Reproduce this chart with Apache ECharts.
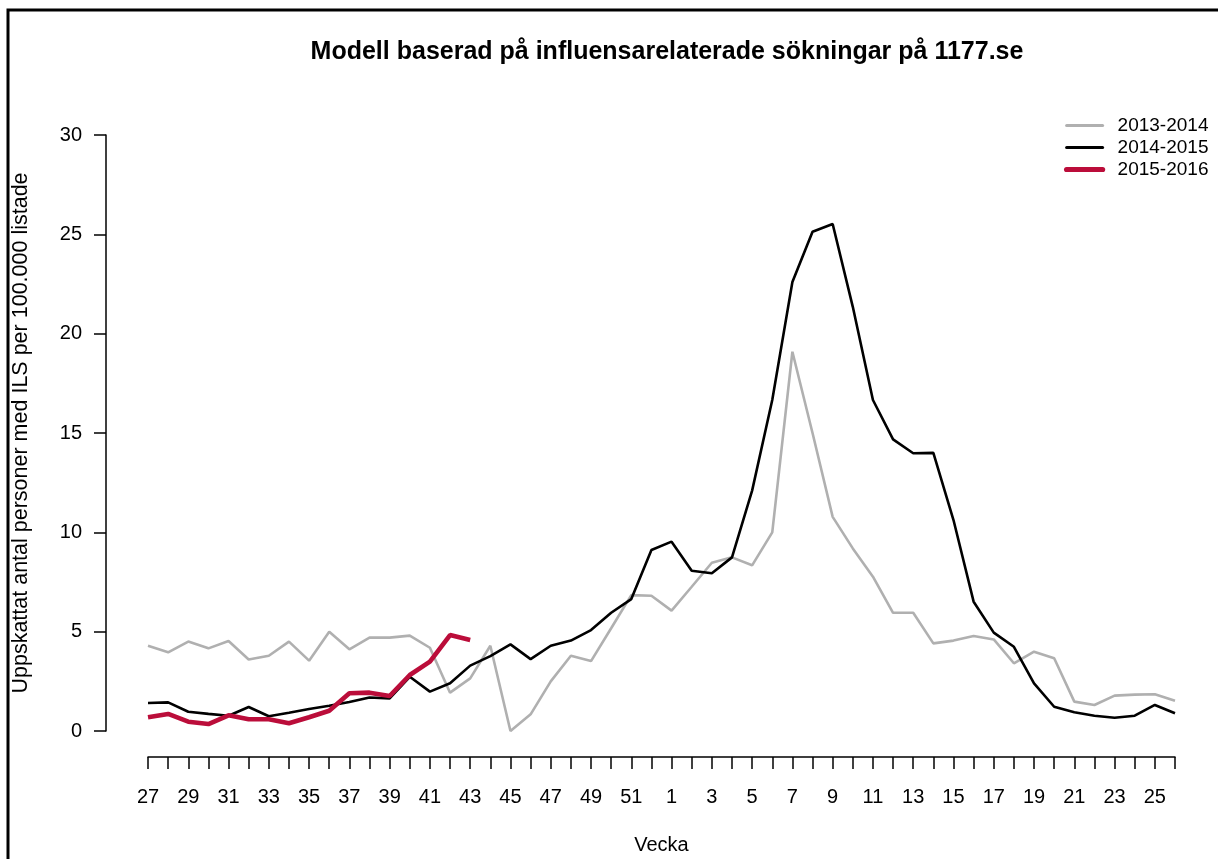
<!DOCTYPE html>
<html>
<head>
<meta charset="utf-8">
<script src="https://cdn.jsdelivr.net/npm/echarts@6/dist/echarts.min.js"></script>
<style>html,body{margin:0;padding:0;background:#fff}#c{width:1218px;height:859px}</style>
</head>
<body>
<div id="c"></div>
<script>
const weeks = [27,28,29,30,31,32,33,34,35,36,37,38,39,40,41,42,43,44,45,46,47,48,49,50,51,52,1,2,3,4,5,6,7,8,9,10,11,12,13,14,15,16,17,18,19,20,21,22,23,24,25,26];
const s2013 = [4.29,3.96,4.5,4.16,4.53,3.6,3.79,4.5,3.54,5.0,4.11,4.7,4.7,4.8,4.19,1.93,2.65,4.29,0.0,0.84,2.5,3.79,3.52,5.17,6.84,6.81,6.06,7.26,8.47,8.74,8.34,10.0,19.09,15.0,10.78,9.19,7.77,5.95,5.95,4.41,4.55,4.78,4.61,3.41,3.99,3.66,1.48,1.31,1.78,1.83,1.85,1.52];
const s2014 = [1.41,1.44,0.97,0.86,0.77,1.21,0.74,0.92,1.11,1.27,1.46,1.69,1.64,2.73,1.98,2.4,3.29,3.77,4.36,3.62,4.29,4.55,5.08,5.95,6.64,9.11,9.53,8.07,7.94,8.74,12.1,16.66,22.6,25.13,25.52,21.35,16.66,14.68,13.98,14.0,10.62,6.51,4.95,4.24,2.4,1.22,0.94,0.77,0.67,0.77,1.31,0.89];
const s2015 = [0.69,0.86,0.47,0.35,0.79,0.59,0.59,0.39,0.69,1.02,1.9,1.93,1.76,2.82,3.49,4.83,4.58];
const seriesNames = ['2013-2014','2014-2015','2015-2016'];
const yTicks = [0,5,10,15,20,25,30];

const FONT = 'Liberation Sans, Arial, sans-serif';
const colors = ['#b0b0b0', '#000000', '#bb0d3a'];
const widths = [2.6, 2.6, 4.6];
const chart = echarts.init(document.getElementById('c'), null, {renderer:'canvas'});
chart.setOption({
  backgroundColor: '#ffffff',
  animation: false,
  title: {
    text: 'Modell baserad på influensarelaterade sökningar på 1177.se',
    left: 662, top: 35, textAlign: 'center',
    textStyle: {fontFamily: FONT, fontSize: 25, fontWeight: 'bold', color: '#000'}
  },
  legend: {
    orient: 'vertical', left: 1059, top: 111, itemGap: 3,
    itemWidth: 36, itemHeight: 14,
    itemStyle: {opacity: 0},
    textStyle: {fontFamily: FONT, fontSize: 19, color: '#000', padding: [0,0,0,10]},
    data: seriesNames.map((n, i) => ({name: n, lineStyle: {width: widths[i] + (i === 2 ? 0.6 : 0.4), color: colors[i], cap: 'round'}}))
  },
  graphic: [{
    type: 'rect', silent: true,
    shape: {x: 8, y: 10, width: 1400, height: 1000},
    style: {fill: 'none', stroke: '#000', lineWidth: 3}
  }],
  grid: {left: 148, right: 43, top: 135, bottom: 128, outerBoundsMode: 'none', containLabel: false},
  xAxis: {
    type: 'category', data: weeks, boundaryGap: false, offset: 26,
    name: 'Vecka', nameLocation: 'middle', nameGap: 78,
    nameTextStyle: {fontFamily: FONT, fontSize: 20, color: '#000'},
    axisLine: {onZero: false, lineStyle: {color: '#000', width: 1.5}},
    axisTick: {interval: 0, length: 12, lineStyle: {color: '#000', width: 1.5}},
    axisLabel: {interval: 1, margin: 30, fontFamily: FONT, fontSize: 20, color: '#000'},
    splitLine: {show: false}
  },
  yAxis: {
    type: 'value', min: 0, max: 30, interval: 5, offset: 42,
    name: 'Uppskattat antal personer med ILS per 100.000 listade',
    nameLocation: 'middle', nameGap: 74,
    nameTextStyle: {fontFamily: FONT, fontSize: 21.5, color: '#000'},
    axisLine: {show: true, lineStyle: {color: '#000', width: 1.5}},
    axisTick: {show: true, length: 12, lineStyle: {color: '#000', width: 1.5}},
    axisLabel: {margin: 24, fontFamily: FONT, fontSize: 20, color: '#000',
      formatter: v => yTicks.includes(v) ? String(v) : ''},
    splitLine: {show: false}
  },
  series: seriesNames.map((n, i) => ({
    name: n, type: 'line', data: [s2013, s2014, s2015][i], symbol: 'none', color: colors[i],
    lineStyle: {color: colors[i], width: widths[i]}, z: 2 + i
  }))
});
</script>
</body>
</html>
